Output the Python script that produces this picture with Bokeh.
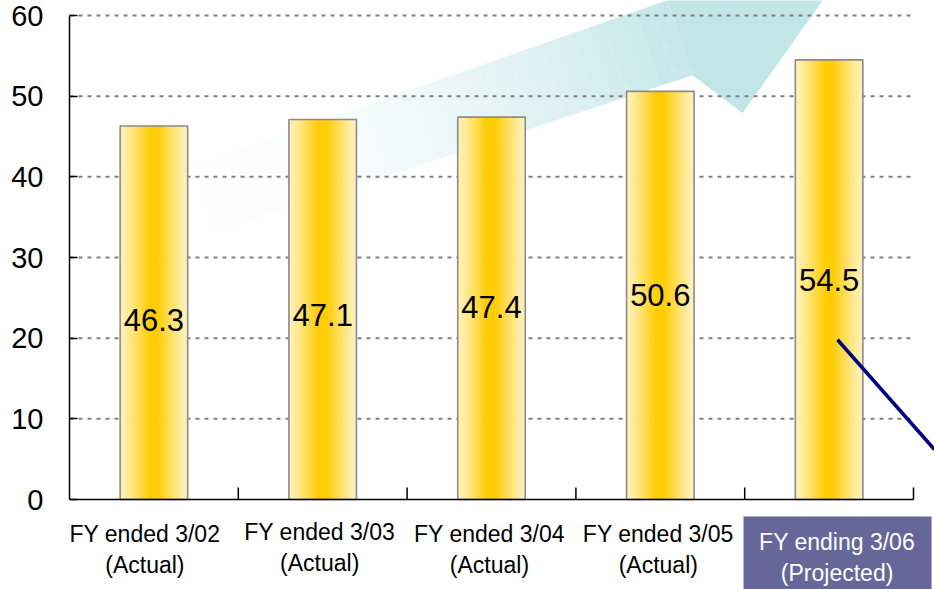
import numpy as np
from bokeh.plotting import figure
from bokeh.models import FixedTicker, Range1d
from bokeh.core.properties import value
from bokeh.embed import file_html
from bokeh.resources import INLINE

# ---------------- data ----------------
categories = [
    "FY ended 3/02\n(Actual)",
    "FY ended 3/03\n(Actual)",
    "FY ended 3/04\n(Actual)",
    "FY ended 3/05\n(Actual)",
    "FY ending 3/06\n(Projected)",
]
values = [46.3, 47.1, 47.4, 50.6, 54.5]
y_ticks = [0, 10, 20, 30, 40, 50, 60]

# decorative arrow (data coordinates)
arrow_tail_top = (0.735, 41.4)
arrow_tail_bot = (0.853, 33.0)
arrow_base_top = (3.543, 61.9)
arrow_base_bot = (3.691, 52.6)
arrow_barb_bot = (3.987, 47.9)
arrow_tip = (4.514, 63.4)
arrow_barb_top = (3.649, 69.3)
callout_x = [4.55, 5.124]
callout_y = [19.8, 6.2]

FONT = "Liberation Sans"
n = len(categories)
centers = [i + 0.5 for i in range(n)]
BAR_W = 0.4

p = figure(width=934, height=589,
           x_range=Range1d(0, 5.1244), y_range=Range1d(-11.157, 61.86),
           output_backend="svg", toolbar_location=None,
           x_axis_location=None,
           min_border_left=69, min_border_right=0,
           min_border_top=0, min_border_bottom=0)
p.outline_line_color = None
p.xgrid.visible = False
p.ygrid.visible = False
p.background_fill_color = "white"
p.border_fill_color = "white"

# ---------------- arrow with gradient ----------------
K = 30
xs, ys, alphas = [], [], []
def lerp(a, b, t):
    return (a[0] + (b[0] - a[0]) * t, a[1] + (b[1] - a[1]) * t)
for k in range(K):
    t0, t1 = k / K, (k + 1) / K
    a = lerp(arrow_tail_top, arrow_base_top, t0)
    b = lerp(arrow_tail_top, arrow_base_top, t1)
    c = lerp(arrow_tail_bot, arrow_base_bot, t1)
    d = lerp(arrow_tail_bot, arrow_base_bot, t0)
    xs.append([a[0], b[0], c[0], d[0]])
    ys.append([a[1], b[1], c[1], d[1]])
    tm = (t0 + t1) / 2
    alphas.append(0.03 + 0.85 * tm ** 1.8)
head = [arrow_base_top, arrow_barb_top, arrow_tip, arrow_barb_bot, arrow_base_bot]
xs.append([pt[0] for pt in head])
ys.append([pt[1] for pt in head])
alphas.append(0.92)
p.patches(xs, ys, fill_color="#BDE3E6", fill_alpha=alphas, line_alpha=0, level="image")

# ---------------- grid lines ----------------
p.segment(x0=[0] * (len(y_ticks) - 1), x1=[n] * (len(y_ticks) - 1),
          y0=y_ticks[1:], y1=y_ticks[1:], line_color="#808080",
          line_width=2, line_dash="4 5", level="underlay")

# ---------------- gradient bars ----------------
light = np.array([255, 240, 180])
gold = np.array([255, 204, 0])
N = 36
sx, stop, scol = [], [], []
w = BAR_W / N
for c, v in zip(centers, values):
    for j in range(N):
        u = -1 + (j + 0.5) * 2 / N
        f = min(1.0, max(0.0, (1 - abs(u) - 0.08) / 0.8)) ** 1.1
        col = light + (gold - light) * f
        sx.append(c - BAR_W / 2 + (j + 0.5) * w)
        stop.append(v)
        scol.append("#%02x%02x%02x" % tuple(int(round(q)) for q in col))
p.vbar(x=sx, top=stop, bottom=0, width=w, fill_color=scol, line_color=scol, line_width=0.6)
p.vbar(x=centers, top=values, bottom=0, width=BAR_W, fill_color=None,
       line_color="#8c8c8c", line_width=1.6)

# value labels
p.text(x=centers, y=[v / 2 for v in values], text=[f"{v:.1f}" for v in values],
       text_font=value(FONT), text_font_size="31px", text_color="black",
       text_align="center", text_baseline="middle", y_offset=[7, 5, -1, 0, 0])

# callout line
p.line(callout_x, callout_y, line_color="#000080", line_width=3.5)

# ---------------- x axis (line, boundary ticks, category labels) ----------------
p.segment(x0=[0], x1=[n], y0=[0], y1=[0], line_color="black", line_width=1.5)
bounds = list(range(1, n + 1))
p.segment(x0=bounds, x1=bounds, y0=[0] * n, y1=[1.49] * n,
          line_color="black", line_width=1.5)

# highlight box behind the projected category label
p.quad(left=[n - 1 - 0.007], right=[n + 0.107], top=[-2.107], bottom=[-12],
       fill_color="#666699", line_color=None)

p.text(x=centers, y=[0] * n, text=categories,
       text_font=value(FONT), text_font_size="23px",
       text_color=["black"] * (n - 1) + ["white"],
       text_align="center", text_baseline="top",
       x_offset=[-9, -3, -2, -2, 8], y_offset=[21, 19, 21, 21, 29])

# ---------------- y axis ----------------
ya = p.yaxis[0]
ya.ticker = FixedTicker(ticks=y_ticks, minor_ticks=[])
ya.bounds = (0, 60)
ya.axis_line_color = "black"
ya.axis_line_width = 1.5
ya.major_tick_in = 8
ya.major_tick_out = 0
ya.major_tick_line_color = "black"
ya.major_tick_line_width = 1.5
ya.minor_tick_in = 0
ya.minor_tick_out = 0
ya.major_label_text_font = FONT
ya.major_label_text_font_size = "29px"
ya.major_label_text_color = "black"
ya.major_label_standoff = 26

open("out.html", "w").write(file_html(p, INLINE))
